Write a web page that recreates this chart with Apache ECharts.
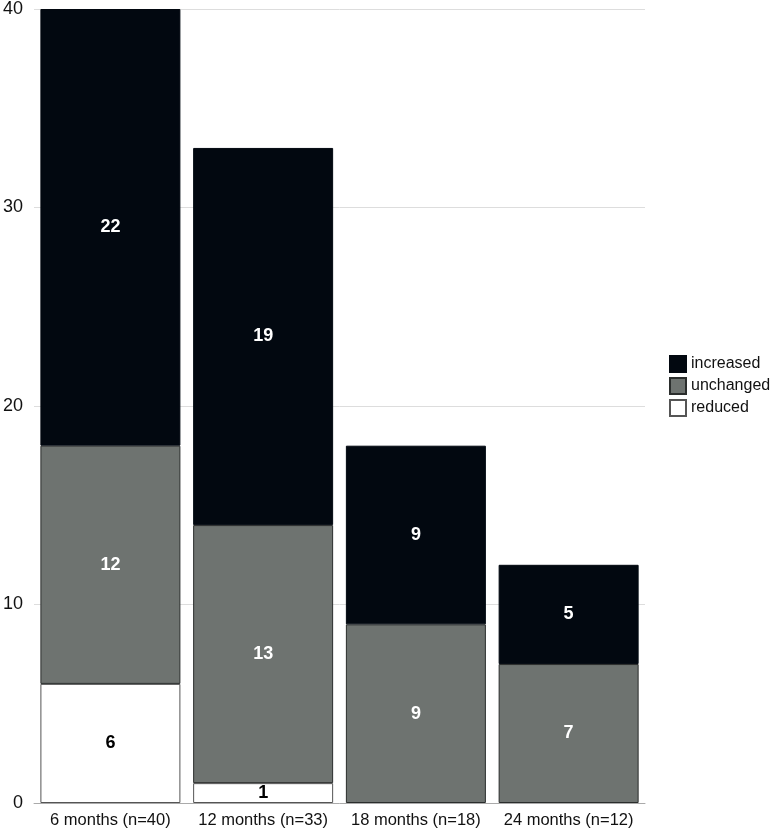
<!DOCTYPE html>
<html>
<head>
<meta charset="utf-8">
<script src="https://cdn.jsdelivr.net/npm/echarts@6/dist/echarts.min.js"></script>
<style>
  html, body { margin: 0; padding: 0; background: #fff; }
  #chart { width: 776px; height: 834px; }
</style>
</head>
<body>
<div id="chart"></div>
<script>
var categories = ['6 months (n=40)', '12 months (n=33)', '18 months (n=18)', '24 months (n=12)'];
var reduced = [6, 1, 0, 0];
var unchanged = [12, 13, 9, 7];
var increased = [22, 19, 9, 5];
var yTicks = [0, 10, 20, 30, 40];

var font = 'Liberation Sans, Arial, sans-serif';

function barSeries(name, data, color, border, labelColor) {
    return {
        name: name,
        type: 'bar',
        stack: 'total',
        barWidth: 140,
        data: data.map(function (v) { return v === 0 ? null : v; }),
        itemStyle: {
            color: color,
            borderColor: border,
            borderWidth: 1
        },
        label: {
            show: true,
            position: 'inside',
            color: labelColor,
            fontFamily: font,
            fontWeight: 'bold',
            fontSize: 18
        }
    };
}

var chart = echarts.init(document.getElementById('chart'));
chart.setOption({
    animation: false,
    backgroundColor: '#fff',
    grid: {
        left: 31,
        right: 131,
        top: 8,
        bottom: 31,
        containLabel: false
    },
    legend: {
        orient: 'vertical',
        left: 664,
        top: 350,
        icon: 'rect',
        itemWidth: 16,
        itemHeight: 16,
        itemGap: 4,
        selectedMode: false,
        data: ['increased', 'unchanged', 'reduced'],
        textStyle: {
            fontFamily: font,
            fontSize: 16,
            color: '#111'
        }
    },
    xAxis: {
        type: 'category',
        data: categories,
        axisTick: { show: false },
        axisLine: { lineStyle: { color: '#aaa', width: 1 } },
        axisLabel: {
            interval: 0,
            hideOverlap: false,
            fontFamily: font,
            fontSize: 16.5,
            color: '#111',
            margin: 9
        }
    },
    yAxis: {
        type: 'value',
        min: yTicks[0],
        max: yTicks[yTicks.length - 1],
        interval: 10,
        axisLine: { show: false },
        axisTick: { show: false },
        axisLabel: {
            fontFamily: font,
            fontSize: 18,
            color: '#111',
            margin: 11
        },
        splitLine: { lineStyle: { color: '#ddd', width: 1 } }
    },
    series: [
        barSeries('reduced', reduced, '#ffffff', '#555', '#000'),
        barSeries('unchanged', unchanged, '#6e7370', '#2a2d2c', '#fff'),
        barSeries('increased', increased, '#020810', '#020810', '#fff')
    ]
});
</script>
</body>
</html>
